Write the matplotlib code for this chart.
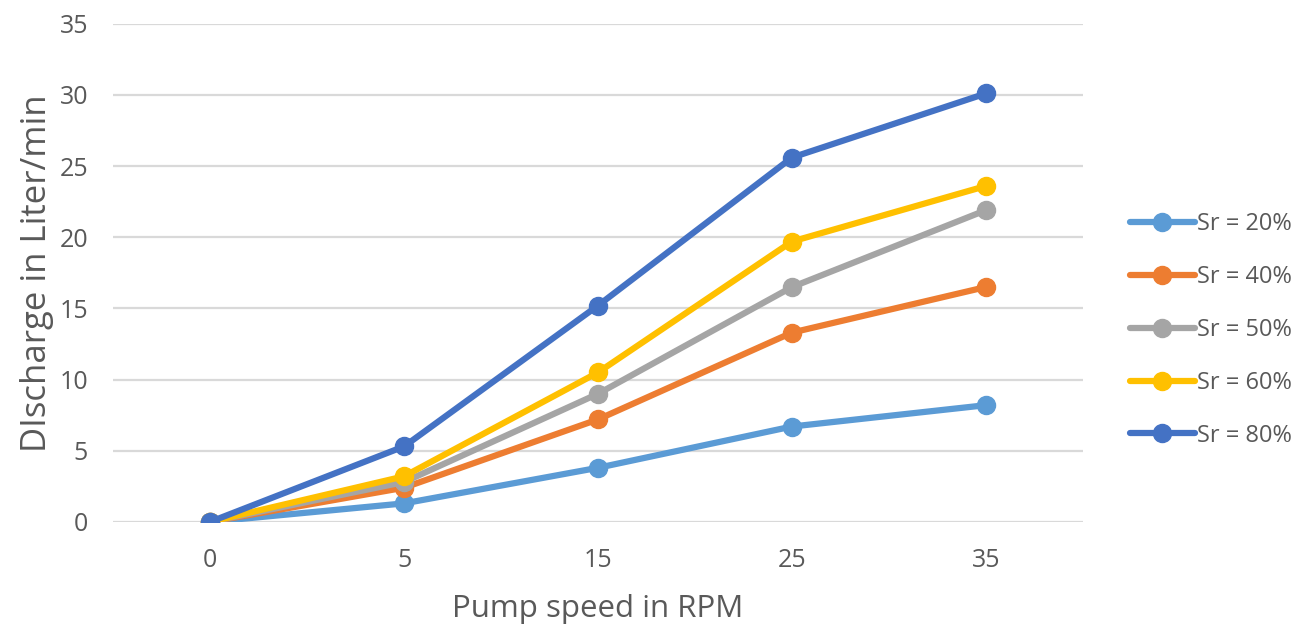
import matplotlib
matplotlib.use("Agg")
import matplotlib.pyplot as plt

plt.rcParams['font.family'] = ['Open Sans', 'DejaVu Sans']

# pump speed categories (RPM), equally spaced on the axis
speeds = ["0", "5", "15", "25", "35"]

# discharge in liter/min for each saturation ratio
sr20 = [0, 1.3, 3.8, 6.7, 8.2]
sr40 = [0, 2.4, 7.2, 13.3, 16.5]
sr50 = [0, 2.8, 9.0, 16.5, 21.9]
sr60 = [0, 3.2, 10.5, 19.7, 23.6]
sr80 = [0, 5.3, 15.2, 25.6, 30.1]

series = [("Sr = 20%", sr20, "#5B9BD5"),
          ("Sr = 40%", sr40, "#ED7D31"),
          ("Sr = 50%", sr50, "#A5A5A5"),
          ("Sr = 60%", sr60, "#FFC000"),
          ("Sr = 80%", sr80, "#4472C4")]

grey = "#595959"

fig = plt.figure(figsize=(13, 6.25), dpi=100)
ax = fig.add_axes([0.087, 0.165, 0.746, 0.797])

xs = range(len(speeds))
for name, vals, col in series:
    ax.plot(xs, vals, color=col, lw=4.5, marker="o", ms=13, label=name,
            solid_capstyle="round", zorder=3)

ax.set_xlim(-0.5, len(speeds) - 0.5)
ax.set_ylim(0, 35)
ax.set_yticks(range(0, 36, 5))
ax.set_xticks(list(xs))
ax.set_xticklabels(speeds)
ax.grid(axis="y", color="#d9d9d9", lw=1.6, zorder=0)
for s in ax.spines.values():
    s.set_visible(False)
ax.tick_params(length=0, labelsize=18, colors=grey)
ax.tick_params(axis="x", pad=19)
ax.tick_params(axis="y", pad=18)

ax.set_xlabel("Pump speed in RPM", fontsize=22.5, color=grey, labelpad=15)
ax.set_ylabel("DIscharge in Liter/min", fontsize=25, color=grey, labelpad=4)

leg = ax.legend(loc="center left", bbox_to_anchor=(0.869, 0.472),
                bbox_transform=fig.transFigure, frameon=False,
                borderpad=0, borderaxespad=0,
                fontsize=17, labelcolor=grey, handlelength=2.75,
                handletextpad=0.1, labelspacing=1.22)

fig.savefig("out.png", dpi=100, facecolor="white")
